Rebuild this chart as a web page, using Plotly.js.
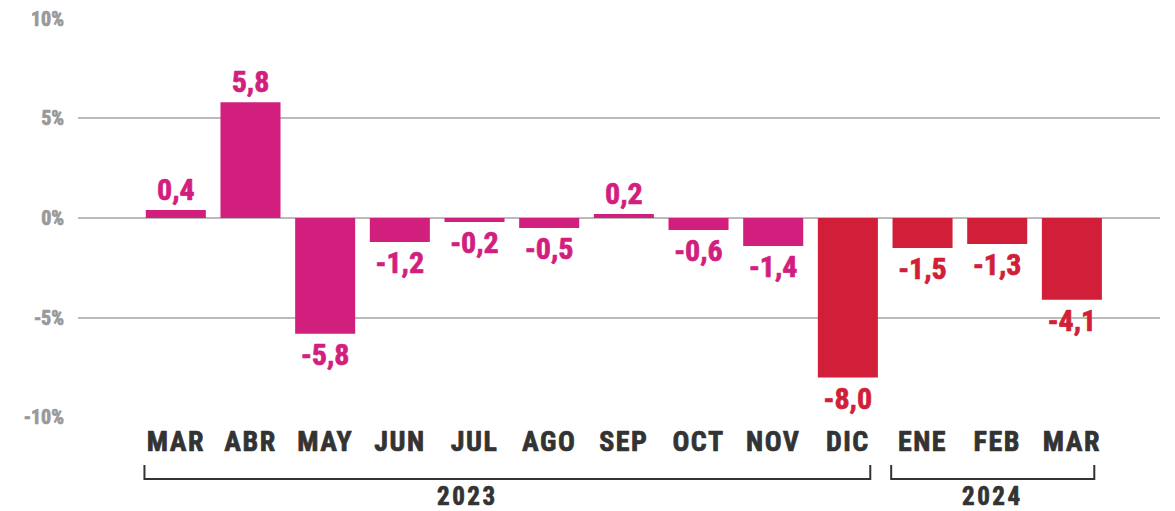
<!DOCTYPE html>
<html>
<head>
<meta charset="utf-8">
<script src="https://cdn.plot.ly/plotly-3.0.1.min.js"></script>
<style>
  html, body { margin: 0; padding: 0; background: #fff; }
  #chart { width: 1175px; height: 511px; }
  .xtick text { letter-spacing: 1.5px; }
  .annotation-text { letter-spacing: 2.5px; }
</style>
</head>
<body>
<div id="chart"></div>
<script>
// Data
const months = ['MAR','ABR','MAY','JUN','JUL','AGO','SEP','OCT','NOV','DIC','ENE','FEB','MAR'];
const values = [0.4, 5.8, -5.8, -1.2, -0.2, -0.5, 0.2, -0.6, -1.4, -8.0, -1.5, -1.3, -4.1];
const yearLabels = ['2023', '2024'];
const yearStartIdx = [0, 10];
const yearEndIdx = [9, 12];
const yTickVals = [10, 5, 0, -5, -10];
const yTickText = ['10%', '5%', '0%', '-5%', '-10%'];

const MAGENTA = '#D21F7E';
const RED = '#D11F39';
const FONT = '"Roboto Condensed", "Liberation Sans Narrow", "DejaVu Sans Condensed", sans-serif';

const xIdx = months.map((m, i) => i);
const colors = months.map((m, i) => (i >= 9 ? RED : MAGENTA));

const trace = {
  type: 'bar',
  x: xIdx,
  y: values,
  marker: { color: colors },
  texttemplate: '<b>%{y:.1f}</b>',
  textposition: 'outside',
  textfont: { family: FONT, size: 30, color: colors },
  constraintext: 'none',
  cliponaxis: false,
  hoverinfo: 'skip'
};

const shapes = [];
const annotations = [];
const yearLabelX = [3.9, null];
yearLabels.forEach((yl, k) => {
  const x0 = yearStartIdx[k] - 0.42;
  const x1 = yearEndIdx[k] + 0.3;
  shapes.push({
    type: 'path', xref: 'x', yref: 'paper',
    path: `M ${x0},-0.1175 L ${x0},-0.1525 L ${x1},-0.1525 L ${x1},-0.1175`,
    line: { color: '#333333', width: 2 }
  });
  annotations.push({
    xref: 'x', yref: 'paper',
    x: yearLabelX[k] !== null ? yearLabelX[k] : (x0 + x1) / 2,
    y: -0.195, yanchor: 'middle', xanchor: 'center',
    text: '<b>' + yl + '</b>', showarrow: false,
    font: { family: FONT, size: 25, color: '#333333' }
  });
});

const layout = {
  width: 1175, height: 511,
  margin: { l: 78, r: 15, t: 18, b: 93 },
  paper_bgcolor: '#ffffff', plot_bgcolor: '#ffffff',
  separators: ',.',
  showlegend: false,
  bargap: 0.196,
  xaxis: {
    range: [-1.31, 13.18],
    tickvals: xIdx,
    ticktext: months.map(m => '<b>' + m + '</b>'),
    tickfont: { family: FONT, size: 28, color: '#333333' },
    showgrid: false, zeroline: false, showline: false,
    ticks: '', ticklabelstandoff: 4,
    fixedrange: true
  },
  yaxis: {
    range: [-10.03, 10.03],
    tickvals: yTickVals,
    ticktext: yTickText.map(t => '<b>' + t + '</b>'),
    tickfont: { family: FONT, size: 20, color: '#999999' },
    showgrid: true, gridcolor: '#bbbbbb', gridwidth: 2,
    zeroline: true, zerolinecolor: '#bbbbbb', zerolinewidth: 2,
    showline: false,
    ticks: 'outside', ticklen: 9, tickcolor: 'rgba(0,0,0,0)',
    fixedrange: true
  },
  shapes: shapes,
  annotations: annotations
};

function thicken() {
  const sel = '#chart text.bartext, #chart .xtick text, #chart .ytick text, #chart .annotation-text';
  document.querySelectorAll(sel).forEach(el => {
    const fill = el.style.fill || el.getAttribute('fill');
    if (fill) {
      el.style.stroke = fill;
      el.style.strokeWidth = '0.7px';
      el.style.strokeLinejoin = 'round';
    }
  });
}

Plotly.newPlot('chart', [trace], layout, { displayModeBar: false, staticPlot: true }).then(thicken);
</script>
</body>
</html>
